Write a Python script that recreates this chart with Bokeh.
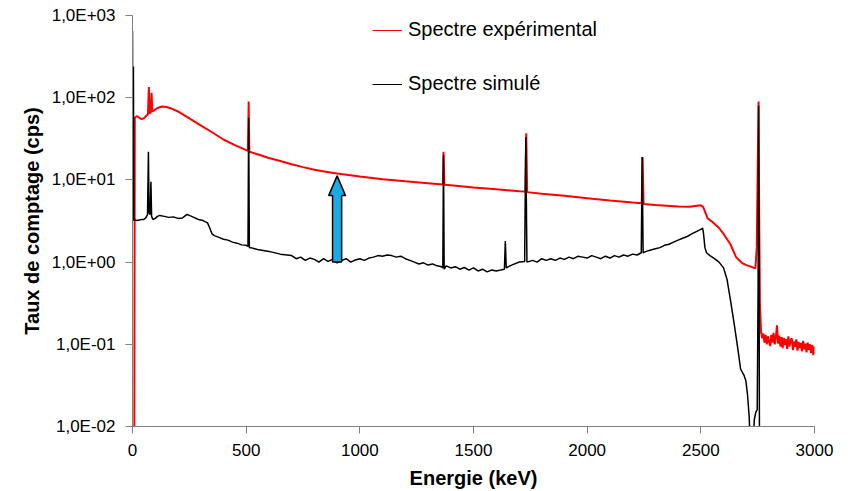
from bokeh.plotting import figure
from bokeh.models import (Range1d, FixedTicker, CustomJSTickFormatter, Legend, LegendItem)
from bokeh.embed import file_html
from bokeh.resources import INLINE

# ---------------- data ----------------
exp_energy = [0, 8, 10, 20, 30, 40, 50, 60, 68, 72,
              75, 80, 84, 87, 95, 110, 130, 150, 170, 200,
              250, 300, 350, 400, 450, 500, 508, 511, 514, 550,
              600, 650, 700, 750, 800, 850, 900, 950, 1000, 1100,
              1200, 1300, 1365, 1368, 1372, 1400, 1500, 1600, 1700, 1728,
              1732, 1736, 1800, 1900, 2000, 2100, 2200, 2240, 2244, 2248,
              2300, 2400, 2450, 2500, 2510, 2520, 2530, 2550, 2580, 2600,
              2630, 2655, 2680, 2700, 2720, 2740, 2746, 2750, 2754, 2757,
              2760,
              2765, 2770, 2775, 2780, 2785, 2790, 2795, 2800, 2805, 2810,
              2815, 2820, 2825, 2830, 2835, 2840, 2845, 2850, 2855, 2860,
              2865, 2870, 2875, 2880, 2885, 2890, 2895, 2900, 2905, 2910,
              2915, 2920, 2925, 2930, 2935, 2940, 2945, 2950, 2955, 2960,
              2965, 2970, 2975, 2980, 2985, 2990, 2995, 3000, 3005, 3010,
              3015, 3020, 3025, 3030]
exp_rate = [0.005, 0.005, 57, 60, 57, 55, 56, 60, 63, 135,
            64, 66, 115, 68, 70, 75, 78, 77, 74, 68,
            56, 46, 38, 31, 26.5, 23, 22.5, 90, 22, 20.5,
            18.5, 17, 15.5, 14.3, 13.3, 12.6, 12.0, 11.5, 11.0, 10.2,
            9.6, 9.1, 8.8, 22, 8.7, 8.6, 8.1, 7.7, 7.3, 7.2,
            37, 7.1, 6.8, 6.4, 6.0, 5.6, 5.3, 5.2, 19, 5.1,
            4.95, 4.75, 4.7, 4.9, 4.7, 4.0, 3.4, 3.1, 2.6, 2.2,
            1.65, 1.15, 0.98, 0.92, 0.88, 0.84, 1.5, 12, 90, 3,
            0.3,
            0.14, 0.118, 0.135, 0.105, 0.13, 0.1, 0.125, 0.108, 0.095, 0.13,
            0.105, 0.138, 0.1, 0.12, 0.17, 0.102, 0.128, 0.094, 0.122, 0.09,
            0.12, 0.098, 0.115, 0.088, 0.125, 0.094, 0.112, 0.118, 0.085, 0.108,
            0.093, 0.115, 0.084, 0.107, 0.09, 0.104, 0.082, 0.11, 0.087, 0.102,
            0.08, 0.105, 0.086, 0.1, 0.078, 0.098, 0.074, 0.094, 0.08, 0.066,
            0.095, 0.076, 0.098, 0.082]

sim_energy = [0, 2, 4, 6, 10, 20, 30, 40, 50, 60,
              66, 70, 73, 78, 81, 84, 90, 100, 110, 120,
              140, 160, 180, 200, 220, 240, 250, 270, 290, 310,
              330, 340, 350, 360, 380, 400, 420, 440, 460, 480,
              500, 508, 511, 514, 520, 550, 600, 650, 700, 720,
              740, 760, 780, 800, 820, 840, 860, 880, 900, 920,
              940, 960, 980, 1000, 1020, 1040, 1060, 1080, 1100, 1120,
              1140, 1160, 1180, 1200, 1220, 1240, 1260, 1280, 1300, 1320,
              1340, 1360, 1365, 1368, 1371, 1380, 1400, 1420, 1440, 1460,
              1480, 1500, 1520, 1540, 1560, 1580, 1600, 1620, 1636, 1640,
              1644, 1660, 1680, 1700, 1725, 1730, 1735, 1760, 1780, 1800,
              1820, 1840, 1860, 1880, 1900, 1920, 1940, 1960, 1980, 2000,
              2020, 2040, 2060, 2080, 2100, 2120, 2140, 2160, 2180, 2200,
              2220, 2238, 2242, 2246, 2260, 2280, 2300, 2320, 2340, 2360,
              2380, 2400, 2420, 2440, 2460, 2480, 2500, 2508, 2512, 2518,
              2525, 2540, 2560, 2580, 2600, 2615, 2630, 2645, 2660, 2675,
              2690, 2698, 2705, 2712, 2718, 2722, 2728, 2735, 2742, 2748,
              2752, 2754, 2756, 2758]
sim_rate = [650, 3.2, 240, 3.2, 3.25, 3.2, 3.25, 3.3, 3.3, 3.5,
            3.8, 22, 3.9, 3.8, 9.5, 3.6, 3.3, 3.4, 3.6, 3.7,
            3.6, 3.5, 3.55, 3.4, 3.45, 3.8, 3.7, 3.5, 3.3, 3.2,
            3.0, 2.6, 2.2, 2.1, 2.0, 1.9, 1.85, 1.75, 1.7, 1.62,
            1.6, 1.55, 57, 1.5, 1.5, 1.42, 1.35, 1.25, 1.2, 1.1,
            1.15, 1.05, 1.12, 1.08, 1.0, 1.1, 1.02, 1.08, 0.98, 1.05,
            1.1, 1.0, 1.06, 1.1, 1.05, 1.12, 1.15, 1.2, 1.18, 1.22,
            1.2, 1.15, 1.18, 1.1, 1.05, 1.0, 0.95, 0.98, 0.92, 0.95,
            0.9, 0.88, 0.85, 20, 0.82, 0.9, 0.85, 0.88, 0.82, 0.86,
            0.8, 0.85, 0.78, 0.82, 0.76, 0.8, 0.78, 0.8, 0.82, 1.8,
            0.85, 0.9, 0.95, 1.0, 1.02, 33, 1.0, 1.05, 1.0, 1.1,
            1.05, 1.1, 1.05, 1.12, 1.08, 1.15, 1.1, 1.18, 1.15, 1.12,
            1.2, 1.15, 1.1, 1.18, 1.12, 1.2, 1.15, 1.22, 1.18, 1.25,
            1.22, 1.3, 19, 1.3, 1.35, 1.4, 1.45, 1.5, 1.6, 1.65,
            1.75, 1.85, 1.95, 2.05, 2.2, 2.35, 2.5, 2.6, 2.2, 1.5,
            1.3, 1.2, 1.1, 1.0, 0.85, 0.62, 0.35, 0.19, 0.1, 0.05,
            0.042, 0.036, 0.025, 0.014, 0.006, 0.003, 0.004, 0.012, 0.015, 0.016,
            0.5, 80, 1.0, 0.005]

x_ticks = [0, 500, 1000, 1500, 2000, 2500, 3000]
y_ticks = [0.01, 0.1, 1, 10, 100, 1000]
y_tick_labels = ["1,0E-02", "1,0E-01", "1,0E+00", "1,0E+01", "1,0E+02", "1,0E+03"]

legend_labels = ["Spectre expérimental", "Spectre simulé"]
x_title = "Energie (keV)"
y_title = "Taux de comptage (cps)"

# arrow between the two spectra (energy, from simulated level to experimental level)
arrow_energy = 900
arrow_from = 1.0
arrow_to = 11.2

FONT = "Liberation Sans"

p = figure(width=854, height=491, output_backend="svg", toolbar_location=None,
           y_axis_type="log", x_range=Range1d(0, 3000), y_range=Range1d(0.01, 1000),
           min_border_left=132, min_border_right=40, min_border_top=15, min_border_bottom=65,
           background_fill_color="white", border_fill_color="white")
p.outline_line_color = None
p.grid.visible = False

r_exp = p.line(exp_energy, exp_rate, line_color="#FF0000", line_width=2)
r_sim = p.line(sim_energy, sim_rate, line_color="#000000", line_width=1.5)

# block arrow
shaft_half = 20
head_half = 37
head_len_dec = 0.24
head_base = arrow_to / 10 ** head_len_dec
ax = [arrow_energy - shaft_half, arrow_energy - shaft_half, arrow_energy - head_half, arrow_energy,
      arrow_energy + head_half, arrow_energy + shaft_half, arrow_energy + shaft_half]
ay = [arrow_from, head_base, head_base, arrow_to, head_base, head_base, arrow_from]
p.patch(ax, ay, fill_color="#1AABE6", line_color="black", line_width=1.5)

# legend (thin sample lines; single-point lines draw nothing in the plot)
leg_exp = p.line(exp_energy[:1], exp_rate[:1], line_color="#FF0000", line_width=1)
leg_sim = p.line(sim_energy[:1], sim_rate[:1], line_color="#000000", line_width=1)
legend = Legend(items=[LegendItem(label=legend_labels[0], renderers=[leg_exp]),
                       LegendItem(label=legend_labels[1], renderers=[leg_sim])],
                location=(240, 331), padding=0, margin=0, spacing=31,
                glyph_width=30, glyph_height=20, label_height=20, label_standoff=6,
                border_line_alpha=0, background_fill_alpha=0,
                label_text_font=FONT, label_text_font_size="20px", label_text_color="black")
p.add_layout(legend)

# axes
for ax_ in (p.xaxis[0], p.yaxis[0]):
    ax_.axis_line_color = "#808080"
    ax_.axis_line_width = 1
    ax_.major_tick_line_color = "#808080"
    ax_.major_tick_in = 0
    ax_.major_tick_out = 7
    ax_.minor_tick_line_color = None
    ax_.major_label_text_font = FONT
    ax_.major_label_text_font_size = "17px"
    ax_.major_label_text_color = "black"
    ax_.axis_label_text_font = FONT
    ax_.axis_label_text_font_size = "20px"
    ax_.axis_label_text_font_style = "bold"
    ax_.axis_label_text_color = "black"

p.xaxis.ticker = FixedTicker(ticks=x_ticks)
p.xaxis.axis_label = x_title
p.xaxis.major_label_standoff = 10
p.xaxis.axis_label_standoff = 8

p.yaxis.ticker = FixedTicker(ticks=y_ticks)
p.yaxis.formatter = CustomJSTickFormatter(
    args=dict(tick_vals=y_ticks, tick_texts=y_tick_labels),
    code="""
const k = tick_vals.findIndex(t => Math.abs(Math.log10(t) - Math.log10(tick)) < 1e-6);
return k >= 0 ? tick_texts[k] : "";
""")
p.yaxis.axis_label = y_title
p.yaxis.major_label_standoff = 10
p.yaxis.axis_label_standoff = 6

open("out.html", "w").write(file_html(p, INLINE))
